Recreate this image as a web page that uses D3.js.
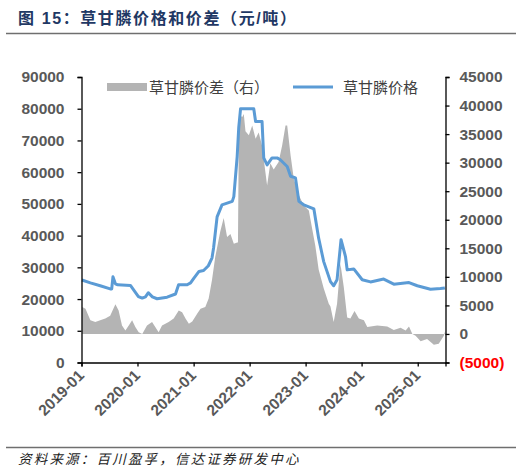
<!DOCTYPE html>
<html>
<head>
<meta charset="utf-8">
<title>草甘膦价格和价差</title>
<script src="https://d3js.org/d3.v7.min.js"></script>
<style>
  body { margin: 0; background: #fff; }
  text { font-family: "Liberation Sans", Arial, "Noto Sans CJK SC", sans-serif; }
</style>
</head>
<body>
<script>
// 草甘膦价格 (left axis, 元/吨)
var priceDates = ["2019-01-04","2019-02-28","2019-05-03","2019-07-07","2019-07-17","2019-07-25","2019-08-10","2019-08-25",
  "2019-11-16","2020-01-07","2020-02-01","2020-02-22","2020-03-12","2020-04-07","2020-05-08","2020-07-12","2020-09-05",
  "2020-09-25","2020-11-20","2020-12-12","2021-01-03","2021-02-05","2021-03-07","2021-04-07","2021-05-01","2021-05-11",
  "2021-06-03","2021-07-05","2021-09-10","2021-09-20","2021-10-12","2021-10-22","2021-11-03","2022-01-28","2022-02-09",
  "2022-03-23","2022-04-03","2022-04-25","2022-05-27","2022-06-29","2022-07-20","2022-09-03","2022-09-25","2022-10-27",
  "2022-11-18","2022-12-20","2023-02-24","2023-03-27","2023-04-29","2023-06-12","2023-07-03","2023-07-25","2023-08-20",
  "2023-09-18","2023-09-29","2023-11-11","2024-01-05","2024-02-28","2024-05-24","2024-07-29","2024-11-05","2024-12-29",
  "2025-03-25","2025-05-29","2025-06-27"];
var priceValues = [26000,25100,24200,23200,23200,27000,24800,24500,
  24300,20800,20300,20700,22000,20700,20100,20600,21600,
  24500,24500,25100,26600,28700,29000,30500,33000,36100,
  45900,49700,50800,52300,65000,74000,80000,80000,76000,
  76000,64500,62300,64500,64500,63900,61800,58700,58200,
  50800,49700,48400,39200,31800,25500,24200,26100,38700,
  33400,29200,29500,26100,25400,26300,24700,25200,24200,
  23100,23300,23500];

// 草甘膦价差 (right axis, 元/吨)
var spreadDates = ["2019-01-05","2019-01-27","2019-02-28","2019-04-01","2019-05-03","2019-06-05","2019-07-07","2019-08-10",
  "2019-08-31","2019-09-22","2019-10-14","2019-11-05","2019-11-27","2019-12-18","2020-01-09","2020-02-01","2020-03-03",
  "2020-04-05","2020-04-26","2020-05-18","2020-06-09","2020-07-22","2020-08-24","2020-09-26","2020-10-18","2020-11-09",
  "2020-12-01","2020-12-23","2021-01-25","2021-02-15","2021-03-18","2021-04-09","2021-05-01","2021-05-22","2021-06-13",
  "2021-06-24","2021-07-16","2021-08-07","2021-08-29","2021-09-20","2021-10-12","2021-10-17","2021-10-23","2021-10-28",
  "2021-11-14","2021-11-24","2021-12-05","2021-12-27","2022-01-18","2022-02-09","2022-03-01","2022-03-23","2022-04-14",
  "2022-04-25","2022-05-16","2022-06-07","2022-07-09","2022-08-01","2022-08-23","2022-09-03","2022-09-25","2022-10-16",
  "2022-11-18","2022-12-20","2023-01-22","2023-02-13","2023-03-05","2023-03-27","2023-04-29","2023-06-01","2023-06-12",
  "2023-07-03","2023-07-25","2023-08-16","2023-09-07","2023-09-29","2023-10-20","2023-11-16","2023-12-14","2024-01-16",
  "2024-02-07","2024-04-12","2024-06-16","2024-07-29","2024-09-11","2024-10-14","2024-11-05","2024-11-27","2024-12-18",
  "2025-01-20","2025-03-03","2025-04-16","2025-05-18","2025-06-20","2025-06-30"];
var spreadValues = [4700,4400,2400,2100,2400,2700,3200,5200,
  4100,1500,600,1500,2400,1200,300,0,1500,
  2100,1200,300,1500,2100,2700,4100,3800,2700,
  1800,2200,3600,4400,4700,6200,9500,13500,16500,
  18000,20300,17000,17500,15800,16000,16000,36000,38300,
  38000,38500,35500,34800,36500,34200,35300,33000,28300,
  26000,29900,28800,30100,33000,36500,36500,31300,27200,
  24300,22500,21600,18400,15500,11300,8000,5300,4800,
  2100,5300,12300,8200,2900,2700,4000,2700,2400,
  1200,1500,1300,700,1100,600,1300,0,-300,
  -1300,-900,-1900,-1700,-300,600];

var leftTicks = [0,10000,20000,30000,40000,50000,60000,70000,80000,90000];
var rightTicks = [-5000,0,5000,10000,15000,20000,25000,30000,35000,40000,45000];
var xTickLabels = ["2019-01","2020-01","2021-01","2022-01","2023-01","2024-01","2025-01"];

var width = 528, height = 475;
var parse = d3.timeParse("%Y-%m-%d");
var parseMonth = d3.timeParse("%Y-%m");

var svg = d3.select("body").append("svg")
  .attr("width", width)
  .attr("height", height);

var x = d3.scaleTime()
  .domain([parse("2019-01-01"), parse("2025-07-01")])
  .range([81.5, 445.5]);
var yL = d3.scaleLinear().domain([0, 90000]).range([362.5, 77]);
var yR = d3.scaleLinear().domain([-5000, 45000]).range([362.5, 77]);

// title and rules
svg.append("text")
  .attr("x", 18).attr("y", 24)
  .attr("fill", "#1f3864")
  .style("font-size", "16px").style("font-weight", "bold")
  .style("letter-spacing", "1.6px")
  .text("图 15：草甘膦价格和价差（元/吨）");
svg.append("line").attr("x1", 6).attr("x2", 516).attr("y1", 33.5).attr("y2", 33.5)
  .attr("stroke", "#6f6f6f").attr("stroke-width", 1.5);
svg.append("line").attr("x1", 6).attr("x2", 516).attr("y1", 447.5).attr("y2", 447.5)
  .attr("stroke", "#6f6f6f").attr("stroke-width", 1.5);
svg.append("text")
  .attr("x", 18).attr("y", 464)
  .attr("fill", "#222")
  .style("font-size", "13.5px").style("font-style", "italic")
  .style("letter-spacing", "2.2px")
  .text("资料来源：百川盈孚，信达证券研发中心");

// spread area (right axis)
var spread = spreadDates.map(function(d, i) { return { date: parse(d), value: spreadValues[i] }; });
var area = d3.area()
  .x(function(d) { return x(d.date); })
  .y0(yR(0))
  .y1(function(d) { return yR(d.value); });
svg.append("path")
  .datum(spread)
  .attr("d", area)
  .attr("fill", "#b4b4b4");

// price line (left axis)
var price = priceDates.map(function(d, i) { return { date: parse(d), value: priceValues[i] }; });
var line = d3.line()
  .x(function(d) { return x(d.date); })
  .y(function(d) { return yL(d.value); });
svg.append("path")
  .datum(price)
  .attr("d", line)
  .attr("fill", "none")
  .attr("stroke", "#5b9bd5")
  .attr("stroke-width", 3)
  .attr("stroke-linejoin", "round");

// axes
var leftAxis = svg.append("g")
  .attr("transform", "translate(81.5,0)")
  .call(d3.axisLeft(yL).tickValues(leftTicks).tickSize(4).tickPadding(13).tickFormat(d3.format("d")));
var rightAxis = svg.append("g")
  .attr("transform", "translate(445.5,0)")
  .call(d3.axisRight(yR).tickValues(rightTicks).tickSize(4).tickPadding(10)
    .tickFormat(function(d) { return d < 0 ? "(" + (-d) + ")" : d; }));
var bottomAxis = svg.append("g")
  .attr("transform", "translate(0,362.5)")
  .call(d3.axisBottom(x).tickValues(xTickLabels.map(function(s) { return parseMonth(s); }))
    .tickSize(4).tickFormat(d3.timeFormat("%Y-%m")));

[leftAxis, rightAxis, bottomAxis].forEach(function(g) {
  g.select(".domain").attr("stroke", "#000").attr("stroke-width", 1.3);
  g.selectAll(".tick line").attr("stroke", "#000").attr("stroke-width", 1.3);
  g.selectAll(".tick text")
    .attr("fill", "#595959")
    .style("font-size", "15.5px")
    .style("font-weight", "bold")
    .style("font-family", "'Liberation Sans', Arial, sans-serif");
});
rightAxis.selectAll(".tick text")
  .attr("fill", function(d) { return d < 0 ? "#ff0000" : "#595959"; });
bottomAxis.selectAll(".tick text")
  .attr("text-anchor", "end")
  .attr("dy", null)
  .attr("y", 0)
  .attr("transform", "translate(3,14) rotate(-45)");

// legend
var legend = svg.append("g");
legend.append("rect")
  .attr("x", 107).attr("y", 83).attr("width", 40).attr("height", 8)
  .attr("fill", "#b4b4b4");
legend.append("text")
  .attr("x", 149).attr("y", 92.5)
  .attr("fill", "#404040")
  .style("font-size", "15px")
  .text("草甘膦价差（右）");
legend.append("line")
  .attr("x1", 293).attr("x2", 333).attr("y1", 87).attr("y2", 87)
  .attr("stroke", "#5b9bd5").attr("stroke-width", 3);
legend.append("text")
  .attr("x", 343).attr("y", 92.5)
  .attr("fill", "#404040")
  .style("font-size", "15px")
  .text("草甘膦价格");
</script>
</body>
</html>
